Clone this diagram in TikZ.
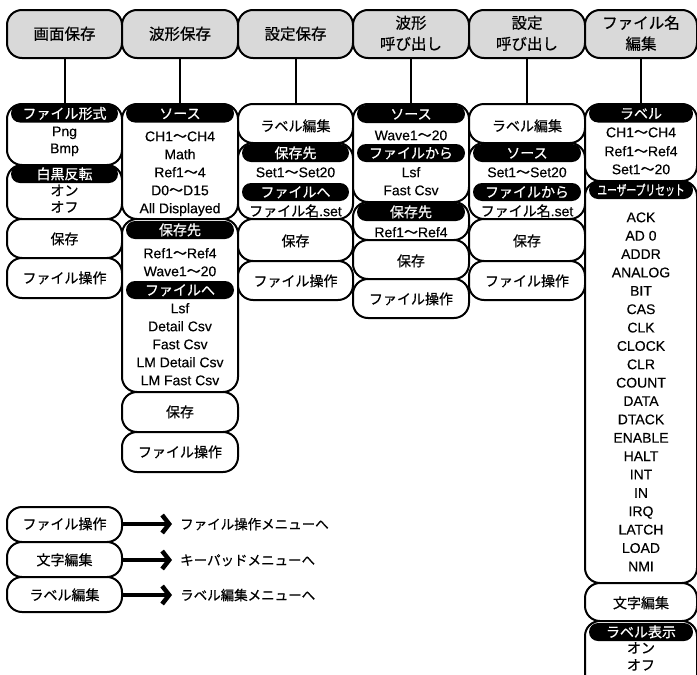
\documentclass[tikz,border=0pt]{standalone}
\usepackage{fontspec}
\usepackage{graphicx}
\setmainfont[FakeBold=0.3]{Liberation Sans}
\newfontfamily\jp[FakeBold=0.6]{Noto Sans CJK JP}
\usetikzlibrary{arrows.meta}
\definecolor{tabgray}{RGB}{217,217,217}
\newcommand\wv{{\jp ～}}
\newcommand\mybox[5]{\node[mbox, minimum width={(#4-#2)*1pt}, minimum height={(#5-#3)*1pt}] (#1) at ({(#2+#4)/2},{(#3+#5)/2}) {};}
\newcommand\mytab[5]{\node[tabbox, minimum width={(#4-#2)*1pt}, minimum height={(#5-#3)*1pt}] (#1) at ({(#2+#4)/2},{(#3+#5)/2}) {};}
\newcommand\pill[5]{\node[pillbox, minimum width={#4*1pt}] (#1) at (#2,#3) {}; \node[tx, text=white] (#1t) at (#2,#3) {\jp #5};}
\newcommand\tl[4]{\node[tx] (#1) at (#2,#3) {#4};}
\tikzset{
  mbox/.style={draw, line width=2pt, fill=white, rounded corners=15pt, inner sep=0pt, outer sep=0pt},
  tabbox/.style={draw, line width=2pt, fill=tabgray, rounded corners=15pt, inner sep=0pt, outer sep=0pt},
  pillbox/.style={fill=black, rounded corners=9pt, minimum height=18pt, inner sep=0pt},
  tx/.style={inner sep=0pt, anchor=base, yshift=-5.2pt, font=\fontsize{14}{16}\selectfont},
  tabtx/.style={inner sep=0pt, anchor=base, yshift=-5.6pt, font=\fontsize{15.5}{17}\selectfont\jp},
  conn/.style={line width=2pt},
  legarrow/.style={line width=4.5pt, -{Straight Barb[length=7pt,width=18pt]}}
}
\begin{document}
\begin{tikzpicture}[x=1pt,y=-1pt]
\useasboundingbox (0,0) rectangle (697,675);
% tabs
\mytab{t1}{7}{10}{122}{58}
\mytab{t2}{122}{10}{238}{58}
\mytab{t3}{238}{10}{353}{58}
\mytab{t4}{353}{10}{469}{58}
\mytab{t5}{469}{10}{585}{58}
\mytab{t6}{585}{10}{697}{58}
\node[tabtx] (t1a) at (64.5,34) {画面保存};
\node[tabtx] (t2a) at (180,34) {波形保存};
\node[tabtx] (t3a) at (295.5,34) {設定保存};
\node[tabtx] (t4a) at (411,23) {波形};
\node[tabtx] (t4b) at (411,44) {呼び出し};
\node[tabtx] (t5a) at (527,23) {設定};
\node[tabtx] (t5b) at (527,44) {呼び出し};
\node[tabtx] (t6a) at (641,23) {ファイル名};
\node[tabtx] (t6b) at (641,44) {編集};
% column 1
\mybox{c1a}{7}{104}{122}{165}
\mybox{c1b}{7}{165}{122}{219}
\mybox{c1c}{7}{219}{122}{258}
\mybox{c1d}{7}{258}{122}{298}
\pill{p1a}{64.5}{113.5}{107}{ファイル形式}
\tl{c1a1}{64.5}{131}{Png}
\tl{c1a2}{64.5}{148}{Bmp}
\pill{p1b}{64.5}{174}{107}{白黒反転}
\tl{c1b1}{64.5}{190.5}{\jp オン}
\tl{c1b2}{64.5}{207}{\jp オフ}
\tl{c1c1}{64.5}{239}{\jp 保存}
\tl{c1d1}{64.5}{278}{\jp ファイル操作}
% column 2
\mybox{c2a}{122}{104}{238}{219}
\mybox{c2b}{122}{219}{238}{392}
\mybox{c2c}{122}{392}{238}{432}
\mybox{c2d}{122}{432}{238}{472}
\pill{p2a}{180}{113.5}{108}{ソース}
\tl{c2a1}{180}{136}{CH1\wv CH4}
\tl{c2a2}{180}{154}{Math}
\tl{c2a3}{180}{172}{Ref1\wv 4}
\tl{c2a4}{180}{190}{D0\wv D15}
\tl{c2a5}{180}{208}{All Displayed}
\pill{p2b}{180}{230}{108}{保存先}
\tl{c2b1}{180}{253}{Ref1\wv Ref4}
\tl{c2b2}{180}{271}{Wave1\wv 20}
\pill{p2c}{180}{290}{108}{ファイルへ}
\tl{c2b3}{180}{308}{Lsf}
\tl{c2b4}{180}{326}{Detail Csv}
\tl{c2b5}{180}{344}{Fast Csv}
\tl{c2b6}{180}{362}{LM Detail Csv}
\tl{c2b7}{180}{380}{LM Fast Csv}
\tl{c2c1}{180}{412}{\jp 保存}
\tl{c2d1}{180}{452}{\jp ファイル操作}
% column 3
\mybox{c3a}{238}{104}{353}{143}
\mybox{c3b}{238}{143}{353}{219}
\mybox{c3c}{238}{219}{353}{261}
\mybox{c3d}{238}{261}{353}{300}
\tl{c3a1}{295.5}{126}{\jp ラベル編集}
\pill{p3a}{295.5}{153}{107}{保存先}
\tl{c3b1}{295.5}{172}{Set1\wv Set20}
\pill{p3b}{295.5}{192}{107}{ファイルへ}
\tl{c3b2}{295.5}{211}{{\jp ファイル名}.set}
\tl{c3c1}{295.5}{241}{\jp 保存}
\tl{c3d1}{295.5}{281}{\jp ファイル操作}
% column 4
\mybox{c4a}{353}{104}{469}{202}
\mybox{c4b}{353}{202}{469}{240}
\mybox{c4c}{353}{240}{469}{279}
\mybox{c4d}{353}{279}{469}{318}
\pill{p4a}{411}{114}{108}{ソース}
\tl{c4a1}{411}{135}{Wave1\wv 20}
\pill{p4b}{411}{153}{108}{ファイルから}
\tl{c4a2}{411}{172}{Lsf}
\tl{c4a3}{411}{190}{Fast Csv}
\pill{p4c}{411}{212}{108}{保存先}
\tl{c4b1}{411}{232}{Ref1\wv Ref4}
\tl{c4c1}{411}{261}{\jp 保存}
\tl{c4d1}{411}{299}{\jp ファイル操作}
% column 5
\mybox{c5a}{469}{104}{585}{143}
\mybox{c5b}{469}{143}{585}{219}
\mybox{c5c}{469}{219}{585}{261}
\mybox{c5d}{469}{261}{585}{300}
\tl{c5a1}{527}{126}{\jp ラベル編集}
\pill{p5a}{527}{153}{108}{ソース}
\tl{c5b1}{527}{172}{Set1\wv Set20}
\pill{p5b}{527}{192}{108}{ファイルから}
\tl{c5b2}{527}{211}{{\jp ファイル名}.set}
\tl{c5c1}{527}{241}{\jp 保存}
\tl{c5d1}{527}{281}{\jp ファイル操作}
% column 6
\mybox{c6a}{585}{104}{697}{181}
\mybox{c6b}{585}{181}{697}{583}
\mybox{c6c}{585}{583}{697}{621}
\mybox{c6d}{585}{621}{697}{690}
\pill{p6a}{641}{113.5}{104}{ラベル}
\tl{c6a1}{641}{132}{CH1\wv CH4}
\tl{c6a2}{641}{151}{Ref1\wv Ref4}
\tl{c6a3}{641}{169}{Set1\wv 20}
\node[pillbox, minimum width=104pt] (p6b) at (641,190) {};
\node[tx, text=white] (p6bt) at (641,190) {\scalebox{0.7}[1]{\jp ユーザープリセット}};
\foreach \s [count=\i from 0] in {ACK,AD 0,ADDR,ANALOG,BIT,CAS,CLK,CLOCK,CLR,COUNT,DATA,DTACK,ENABLE,HALT,INT,IN,IRQ,LATCH,LOAD,NMI}
  \node[tx] (u\i) at (641,{217+18.37*\i}) {\s};
\tl{c6c1}{641}{603}{\jp 文字編集}
\pill{p6c}{641}{632}{104}{ラベル表示}
\tl{c6d1}{641}{648}{\jp オン}
\tl{c6d2}{641}{665}{\jp オフ}
% connectors
\draw[conn] (t1.south) -- (c1a.north);
\draw[conn] (t2.south) -- (c2a.north);
\draw[conn] (t3.south) -- (c3a.north);
\draw[conn] (t4.south) -- (c4a.north);
\draw[conn] (t5.south) -- (c5a.north);
\draw[conn] (t6.south) -- (c6a.north);
% legend
\mybox{l1}{7}{507}{122}{542}
\mybox{l2}{7}{542}{122}{577}
\mybox{l3}{7}{577}{122}{612}
\tl{l1t}{64.5}{524}{\jp ファイル操作}
\tl{l2t}{64.5}{560}{\jp 文字編集}
\tl{l3t}{64.5}{595}{\jp ラベル編集}
\coordinate (a1) at (172,524);
\coordinate (a2) at (172,560);
\coordinate (a3) at (172,595);
\draw[legarrow] (l1.east |- a1) -- (a1);
\draw[legarrow] (l2.east |- a2) -- (a2);
\draw[legarrow] (l3.east |- a3) -- (a3);
\node[tx, anchor=base west, font=\fontsize{13.5}{15}\selectfont\jp] (g1) at (180,524) {ファイル操作メニューへ};
\node[tx, anchor=base west, font=\fontsize{13.5}{15}\selectfont\jp] (g2) at (180,560) {キーパッドメニューへ};
\node[tx, anchor=base west, font=\fontsize{13.5}{15}\selectfont\jp] (g3) at (180,595) {ラベル編集メニューへ};
\end{tikzpicture}
\end{document}
